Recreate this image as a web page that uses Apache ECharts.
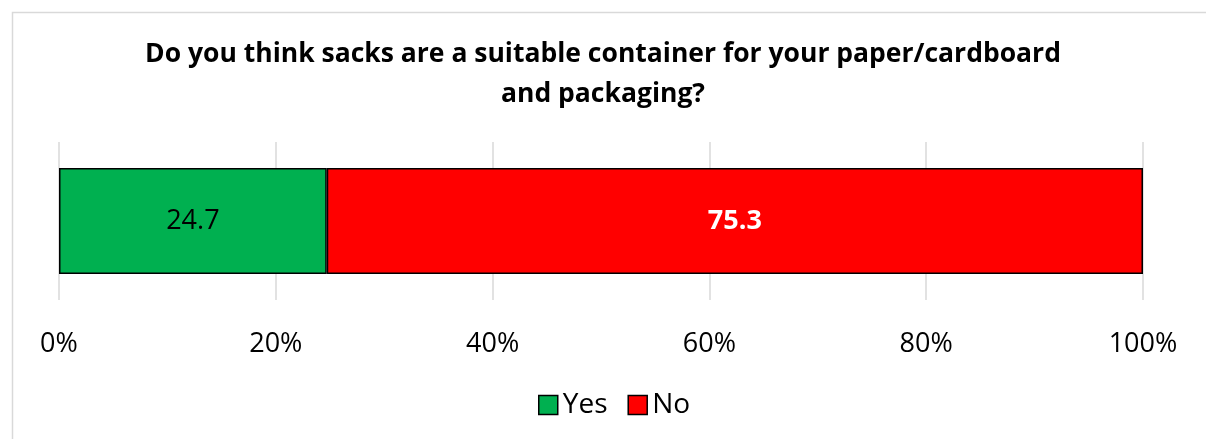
<!DOCTYPE html>
<html>
<head>
<meta charset="utf-8">
<script src="https://cdn.jsdelivr.net/npm/echarts@6/dist/echarts.min.js"></script>
<style>
html,body{margin:0;padding:0;background:#fff;}
#chart{width:1206px;height:439px;}
</style>
</head>
<body>
<div id="chart"></div>
<script>
const titleText = "Do you think sacks are a suitable container for your paper/cardboard\nand packaging?";
const categories = ["Response"];
const seriesNames = ["Yes", "No"];
const yesValues = [24.7];
const noValues = [75.3];
const xTicks = [0, 20, 40, 60, 80, 100];

const FONT = "Open Sans";
const chart = echarts.init(document.getElementById('chart'), null, {renderer: 'canvas'});
chart.setOption({
  animation: false,
  backgroundColor: '#ffffff',
  textStyle: {fontFamily: FONT},
  graphic: [{
    type: 'rect', left: 10, top: 10, silent: true,
    shape: {width: 1250, height: 480},
    style: {fill: 'none', stroke: '#d9d9d9', lineWidth: 1.5}
  }],
  title: {
    text: titleText,
    left: 'center',
    top: 29,
    textStyle: {fontFamily: FONT, fontWeight: 'bold', fontSize: 26.5, lineHeight: 40, color: '#000'}
  },
  legend: {
    data: seriesNames,
    bottom: 15,
    left: 533,
    itemWidth: 19,
    itemHeight: 19,
    itemGap: 20,
    icon: 'rect',
    textStyle: {fontFamily: FONT, fontSize: 28, color: '#000', padding: [0,0,0,0]},
    itemStyle: {borderColor: '#000', borderWidth: 1.5}
  },
  grid: {left: 59, right: 63, top: 142, height: 158, containLabel: false},
  xAxis: {
    type: 'value',
    min: xTicks[0],
    max: xTicks[xTicks.length - 1],
    interval: 20,
    axisLine: {show: false},
    axisTick: {show: false},
    splitLine: {show: true, lineStyle: {color: '#d9d9d9', width: 1.5}},
    axisLabel: {formatter: '{value}%', fontFamily: FONT, fontSize: 27, color: '#000', margin: 31}
  },
  yAxis: {
    type: 'category',
    data: categories,
    axisLine: {show: false},
    axisTick: {show: false},
    axisLabel: {show: false}
  },
  series: [{
    name: seriesNames[0],
    type: 'bar',
    stack: 'total',
    data: yesValues,
    barWidth: 106,
    itemStyle: {color: '#00b050', borderColor: '#000', borderWidth: 1.5},
    label: {show: true, position: 'inside', formatter: p => p.value.toFixed(1), fontFamily: FONT, fontSize: 27, color: '#000'}
  }, {
    name: seriesNames[1],
    type: 'bar',
    stack: 'total',
    data: noValues,
    barWidth: 106,
    itemStyle: {color: '#ff0000', borderColor: '#000', borderWidth: 1.5},
    label: {show: true, position: 'inside', formatter: p => p.value.toFixed(1), fontFamily: FONT, fontSize: 27, fontWeight: 'bold', color: '#fff'}
  }]
});
</script>
</body>
</html>
